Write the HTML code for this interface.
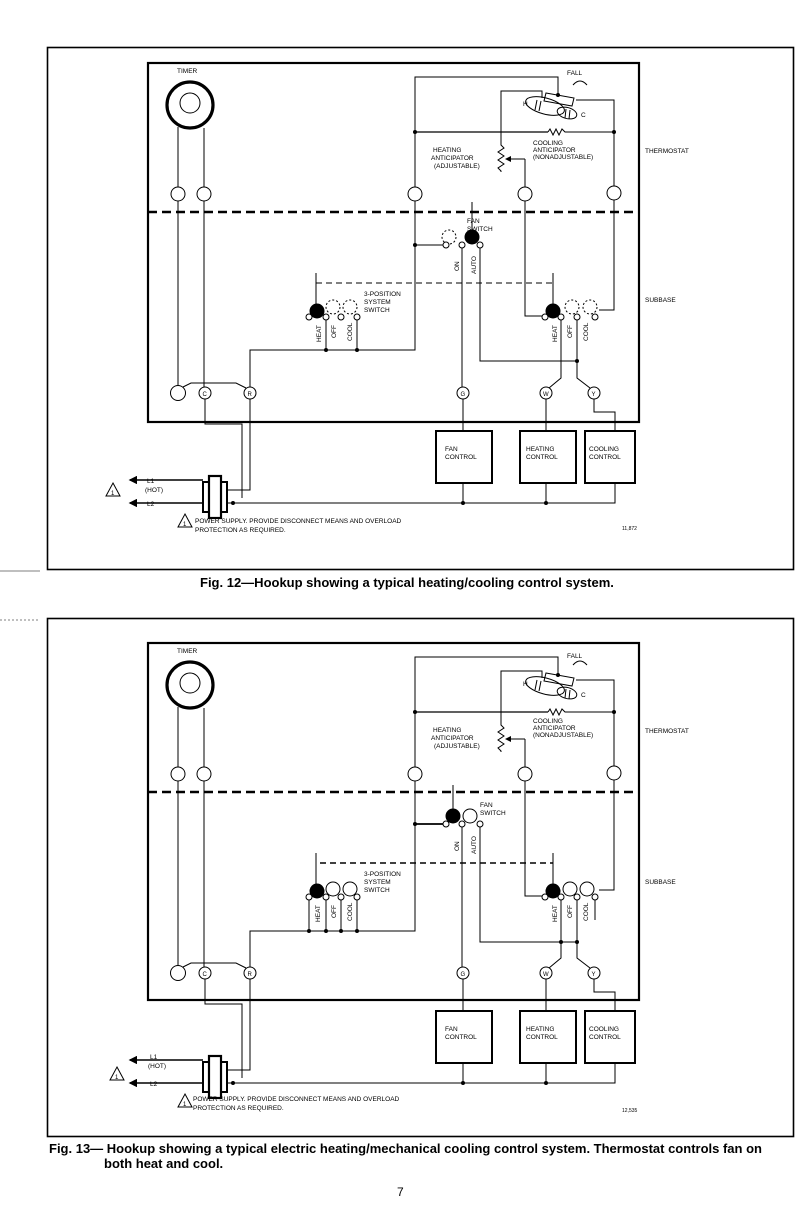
<!DOCTYPE html>
<html><head><meta charset="utf-8"><style>
html,body{margin:0;padding:0;background:#fff;}
svg{display:block;}
text{font-family:"Liberation Sans",sans-serif;fill:#000;}
.s{font-size:6.5px;}
.cap{font-size:13px;font-weight:bold;}
</style></head><body>
<svg width="802" height="1221" viewBox="0 0 802 1221" xmlns="http://www.w3.org/2000/svg">
<defs>
<marker id="ar" markerWidth="6" markerHeight="6" refX="5" refY="3" orient="auto"><path d="M0,0 L6,3 L0,6z" fill="#000"/></marker>
</defs>
<rect x="47.5" y="47.5" width="746" height="522" fill="none" stroke="#000" stroke-width="1.6"/>
<line x1="0" y1="571" x2="40" y2="571" stroke="#000" stroke-width="0.6"/>
<rect x="47.5" y="618.5" width="746" height="518" fill="none" stroke="#000" stroke-width="1.6"/>
<line x1="0" y1="620" x2="40" y2="620" stroke="#000" stroke-width="0.6" stroke-dasharray="2,2"/>
<text class="cap" x="200" y="587">Fig. 12—Hookup showing a typical heating/cooling control system.</text>
<text class="cap" x="49" y="1153">Fig. 13— Hookup showing a typical electric heating/mechanical cooling control system. Thermostat controls fan on</text>
<text class="cap" x="104" y="1168">both heat and cool.</text>
<text x="397" y="1196" style="font-size:12px">7</text>

<g id="f1" fill="none" stroke="#000" stroke-width="1">
<rect x="148" y="63" width="491" height="359" stroke-width="2.2"/>
<line x1="148" y1="212" x2="639" y2="212" stroke-width="2.6" stroke-dasharray="9,5"/>
<circle cx="190" cy="105" r="23" stroke-width="3.2"/>
<circle cx="190" cy="103" r="10"/>
<line x1="178" y1="127" x2="178" y2="187"/><line x1="204" y1="128" x2="204" y2="187"/>
<circle cx="178" cy="194" r="7"/><circle cx="204" cy="194" r="7"/>
<circle cx="415" cy="194" r="7"/><circle cx="525" cy="194" r="7"/><circle cx="614" cy="193" r="7"/>
<line x1="178" y1="201" x2="178" y2="386"/><line x1="204" y1="201" x2="204" y2="387"/>
<circle cx="178" cy="393" r="7.5"/><circle cx="205" cy="393" r="6"/><circle cx="250" cy="393" r="6"/>
<polyline points="183,387 191,383 236,383 246,388"/>
<polyline points="205,399 205,424 242,424 242,498"/>
<polyline points="250,399 250,490 228,490"/>
<polyline points="415,187 415,77 558,77 558,95"/>
<polyline points="415,201 415,350 250,350 250,387"/>
<line x1="415" y1="245" x2="443" y2="245"/>
<line x1="415" y1="132" x2="548" y2="132" stroke-width="1.3"/>
<polyline points="548,132 550,129 553,135 556,129 559,135 562,129 565,132 614,132"/>
<polyline points="576,100 614,100 614,186"/>
<polyline points="614,200 614,310 599,310"/>
<polyline points="542,98 542,91 501,91 501,145 504,148 498,152 504,156 498,160 504,164 498,168 501,171 501,172"/>
<line x1="525" y1="159" x2="506" y2="159" marker-end="url(#ar)"/>
<line x1="525" y1="159" x2="525" y2="187"/>
<polyline points="525,201 525,316 542,316"/>
<ellipse cx="545" cy="106" rx="20" ry="8" transform="rotate(15 545 106)"/>
<ellipse cx="567" cy="113" rx="10" ry="5.5" transform="rotate(15 567 113)"/>
<path d="M546,93 L574,98 L572,106 L544,101Z"/>
<line x1="537" y1="100" x2="535" y2="110"/><line x1="541" y1="101" x2="539" y2="111"/>
<line x1="566" y1="109" x2="565" y2="118"/><line x1="570" y1="110" x2="569" y2="119"/>
<path d="M573,85 Q580,77 587,85" />
<line x1="472" y1="202" x2="472" y2="232"/>
<circle cx="472" cy="237" r="7" fill="#000"/>
<circle cx="449" cy="237" r="7" stroke-dasharray="2,2"/>
<circle cx="446" cy="245" r="3" fill="#fff"/><circle cx="462" cy="245" r="3" fill="#fff"/><circle cx="480" cy="245" r="3" fill="#fff"/>
<line x1="462" y1="248" x2="462" y2="387"/>
<polyline points="480,248 480,361 577,361"/>
<line x1="316" y1="273" x2="316" y2="305"/>
<line x1="316" y1="283" x2="553" y2="283" stroke-dasharray="6,4"/>
<circle cx="317" cy="311" r="7" fill="#000"/>
<circle cx="333" cy="307" r="7" stroke-dasharray="2,2"/><circle cx="350" cy="307" r="7" stroke-dasharray="2,2"/>
<circle cx="309" cy="317" r="3" fill="#fff"/><circle cx="326" cy="317" r="3" fill="#fff"/><circle cx="341" cy="317" r="3" fill="#fff"/><circle cx="357" cy="317" r="3" fill="#fff"/>
<line x1="326" y1="320" x2="326" y2="350"/><line x1="357" y1="320" x2="357" y2="350"/>
<line x1="553" y1="273" x2="553" y2="305"/>
<circle cx="553" cy="311" r="7" fill="#000"/>
<circle cx="572" cy="307" r="7" stroke-dasharray="2,2"/><circle cx="590" cy="307" r="7" stroke-dasharray="2,2"/>
<circle cx="545" cy="317" r="3" fill="#fff"/><circle cx="561" cy="317" r="3" fill="#fff"/><circle cx="577" cy="317" r="3" fill="#fff"/><circle cx="595" cy="317" r="3" fill="#fff"/>
<polyline points="561,320 561,378 549,388"/>
<polyline points="577,320 577,378 590,388"/>
<circle cx="463" cy="393" r="6"/><circle cx="546" cy="393" r="6"/><circle cx="594" cy="393" r="6"/>
<line x1="463" y1="399" x2="463" y2="431"/><line x1="546" y1="399" x2="546" y2="431"/>
<polyline points="594,399 594,412 615,412 615,431"/>
<rect x="436" y="431" width="56" height="52" stroke-width="2"/>
<rect x="520" y="431" width="56" height="52" stroke-width="2"/>
<rect x="585" y="431" width="50" height="52" stroke-width="2"/>
<line x1="463" y1="483" x2="463" y2="503"/><line x1="546" y1="483" x2="546" y2="503"/>
<polyline points="615,483 615,503 226,503"/>
<rect x="209" y="476" width="12" height="42" stroke-width="2.2"/>
<rect x="203" y="482" width="6" height="30" stroke-width="2"/>
<rect x="221" y="482" width="6" height="30" stroke-width="2"/>
<line x1="203" y1="480" x2="130" y2="480" marker-end="url(#ar)" stroke-width="1.4"/>
<line x1="203" y1="503" x2="130" y2="503" marker-end="url(#ar)" stroke-width="1.4"/>
<path d="M113,483 L120,496 L106,496Z"/>
<path d="M185,514 L192,527 L178,527Z"/>
</g>
<g fill="#000">
<circle cx="415" cy="132" r="2"/><circle cx="614" cy="132" r="2"/><circle cx="558" cy="95" r="2"/>
<circle cx="415" cy="245" r="2"/><circle cx="326" cy="350" r="2"/><circle cx="357" cy="350" r="2"/>
<circle cx="577" cy="361" r="2"/><circle cx="233" cy="503" r="2"/><circle cx="463" cy="503" r="2"/><circle cx="546" cy="503" r="2"/>
</g>
<g class="s">
<text x="177" y="73">TIMER</text>
<text x="567" y="75">FALL</text>
<text x="523" y="106">H</text><text x="581" y="117">C</text>
<text x="533" y="145">COOLING</text><text x="533" y="152">ANTICIPATOR</text><text x="533" y="159">(NONADJUSTABLE)</text>
<text x="433" y="152">HEATING</text><text x="431" y="160">ANTICIPATOR</text><text x="434" y="168">(ADJUSTABLE)</text>
<text x="645" y="153">THERMOSTAT</text><text x="645" y="302">SUBBASE</text>
<text x="467" y="223">FAN</text><text x="467" y="231">SWITCH</text>
<text x="364" y="296">3-POSITION</text><text x="364" y="304">SYSTEM</text><text x="364" y="312">SWITCH</text>
<text transform="translate(459,271) rotate(-90)">ON</text>
<text transform="translate(476,274) rotate(-90)">AUTO</text>
<text transform="translate(321,342) rotate(-90)">HEAT</text>
<text transform="translate(336,338) rotate(-90)">OFF</text>
<text transform="translate(352,341) rotate(-90)">COOL</text>
<text transform="translate(557,342) rotate(-90)">HEAT</text>
<text transform="translate(572,338) rotate(-90)">OFF</text>
<text transform="translate(588,341) rotate(-90)">COOL</text>
<text x="202.5" y="396" style="font-size:6px">C</text><text x="247.5" y="396" style="font-size:6px">R</text>
<text x="460.5" y="396" style="font-size:6px">G</text><text x="543" y="396" style="font-size:6px">W</text><text x="591.5" y="396" style="font-size:6px">Y</text>
<text x="445" y="451">FAN</text><text x="445" y="459">CONTROL</text>
<text x="526" y="451">HEATING</text><text x="526" y="459">CONTROL</text>
<text x="589" y="451">COOLING</text><text x="589" y="459">CONTROL</text>
<text x="147" y="483">L1</text><text x="145" y="492">(HOT)</text><text x="147" y="506">L2</text>
<text x="111" y="495" style="font-size:6px">1</text><text x="183" y="526" style="font-size:6px">1</text>
<text x="195" y="523">POWER SUPPLY. PROVIDE DISCONNECT MEANS AND OVERLOAD</text>
<text x="195" y="532">PROTECTION AS REQUIRED.</text>
<text x="622" y="530" style="font-size:5px">11,872</text>
</g>

<g transform="translate(0,580)">
<g fill="none" stroke="#000" stroke-width="1">
<rect x="148" y="63" width="491" height="357" stroke-width="2.2"/>
<line x1="148" y1="212" x2="639" y2="212" stroke-width="2.6" stroke-dasharray="9,5"/>
<circle cx="190" cy="105" r="23" stroke-width="3.2"/>
<circle cx="190" cy="103" r="10"/>
<line x1="178" y1="127" x2="178" y2="187"/><line x1="204" y1="128" x2="204" y2="187"/>
<circle cx="178" cy="194" r="7"/><circle cx="204" cy="194" r="7"/>
<circle cx="415" cy="194" r="7"/><circle cx="525" cy="194" r="7"/><circle cx="614" cy="193" r="7"/>
<line x1="178" y1="201" x2="178" y2="386"/><line x1="204" y1="201" x2="204" y2="387"/>
<circle cx="178" cy="393" r="7.5"/><circle cx="205" cy="393" r="6"/><circle cx="250" cy="393" r="6"/>
<polyline points="183,387 191,383 236,383 246,388"/>
<polyline points="205,399 205,424 242,424 242,498"/>
<polyline points="250,399 250,490 228,490"/>
<polyline points="415,187 415,77 558,77 558,95"/>
<polyline points="415,201 415,351 250,351 250,387"/>
<line x1="415" y1="244" x2="443" y2="244" stroke-width="1.8"/>
<line x1="415" y1="132" x2="548" y2="132" stroke-width="1.3"/>
<polyline points="548,132 550,129 553,135 556,129 559,135 562,129 565,132 614,132"/>
<polyline points="576,100 614,100 614,186"/>
<polyline points="614,200 614,310 599,310"/>
<polyline points="542,98 542,91 501,91 501,145 504,148 498,152 504,156 498,160 504,164 498,168 501,171 501,172"/>
<line x1="525" y1="159" x2="506" y2="159" marker-end="url(#ar)"/>
<line x1="525" y1="159" x2="525" y2="187"/>
<polyline points="525,201 525,316 542,316"/>
<ellipse cx="545" cy="106" rx="20" ry="8" transform="rotate(15 545 106)"/>
<ellipse cx="567" cy="113" rx="10" ry="5.5" transform="rotate(15 567 113)"/>
<path d="M546,93 L574,98 L572,106 L544,101Z"/>
<line x1="537" y1="100" x2="535" y2="110"/><line x1="541" y1="101" x2="539" y2="111"/>
<line x1="566" y1="109" x2="565" y2="118"/><line x1="570" y1="110" x2="569" y2="119"/>
<path d="M573,85 Q580,77 587,85" />
<line x1="453" y1="205" x2="453" y2="230"/>
<circle cx="453" cy="236" r="7" fill="#000"/>
<circle cx="470" cy="236" r="7"/>
<circle cx="446" cy="244" r="3" fill="#fff"/><circle cx="462" cy="244" r="3" fill="#fff"/><circle cx="480" cy="244" r="3" fill="#fff"/>
<line x1="462" y1="247" x2="462" y2="387"/>
<polyline points="480,247 480,362 577,362"/>
<line x1="316" y1="273" x2="316" y2="305"/>
<line x1="320" y1="283" x2="553" y2="283" stroke-dasharray="6,4" stroke-width="1.4"/>
<circle cx="317" cy="311" r="7" fill="#000"/>
<circle cx="333" cy="309" r="7"/><circle cx="350" cy="309" r="7"/>
<circle cx="309" cy="317" r="3" fill="#fff"/><circle cx="326" cy="317" r="3" fill="#fff"/><circle cx="341" cy="317" r="3" fill="#fff"/><circle cx="357" cy="317" r="3" fill="#fff"/>
<line x1="309" y1="320" x2="309" y2="351"/><line x1="326" y1="320" x2="326" y2="351"/>
<line x1="341" y1="320" x2="341" y2="351"/><line x1="357" y1="320" x2="357" y2="351"/>
<line x1="553" y1="273" x2="553" y2="305"/>
<circle cx="553" cy="311" r="7" fill="#000"/>
<circle cx="570" cy="309" r="7"/><circle cx="587" cy="309" r="7"/>
<circle cx="545" cy="317" r="3" fill="#fff"/><circle cx="561" cy="317" r="3" fill="#fff"/><circle cx="577" cy="317" r="3" fill="#fff"/><circle cx="595" cy="317" r="3" fill="#fff"/>
<line x1="595" y1="320" x2="595" y2="340"/>
<polyline points="561,320 561,378 549,388"/>
<polyline points="577,320 577,378 590,388"/>
<circle cx="463" cy="393" r="6"/><circle cx="546" cy="393" r="6"/><circle cx="594" cy="393" r="6"/>
<line x1="463" y1="399" x2="463" y2="431"/><line x1="546" y1="399" x2="546" y2="431"/>
<polyline points="594,399 594,412 615,412 615,431"/>
<rect x="436" y="431" width="56" height="52" stroke-width="2"/>
<rect x="520" y="431" width="56" height="52" stroke-width="2"/>
<rect x="585" y="431" width="50" height="52" stroke-width="2"/>
<line x1="463" y1="483" x2="463" y2="503"/><line x1="546" y1="483" x2="546" y2="503"/>
<polyline points="615,483 615,503 226,503"/>
<rect x="209" y="476" width="12" height="42" stroke-width="2.2"/>
<rect x="203" y="482" width="6" height="30" stroke-width="2"/>
<rect x="221" y="482" width="6" height="30" stroke-width="2"/>
<line x1="203" y1="480" x2="130" y2="480" marker-end="url(#ar)" stroke-width="1.4"/>
<line x1="203" y1="503" x2="130" y2="503" marker-end="url(#ar)" stroke-width="1.4"/>
<path d="M117,487 L124,500 L110,500Z"/>
<path d="M185,514 L192,527 L178,527Z"/>
</g>
<g fill="#000">
<circle cx="415" cy="132" r="2"/><circle cx="614" cy="132" r="2"/><circle cx="558" cy="95" r="2"/>
<circle cx="415" cy="244" r="2"/><circle cx="309" cy="351" r="2"/><circle cx="326" cy="351" r="2"/><circle cx="341" cy="351" r="2"/><circle cx="357" cy="351" r="2"/>
<circle cx="577" cy="362" r="2"/><circle cx="561" cy="362" r="2"/><circle cx="233" cy="503" r="2"/><circle cx="463" cy="503" r="2"/><circle cx="546" cy="503" r="2"/>
</g>
<g class="s">
<text x="177" y="73">TIMER</text>
<text x="567" y="78">FALL</text>
<text x="523" y="106">H</text><text x="581" y="117">C</text>
<text x="533" y="143">COOLING</text><text x="533" y="150">ANTICIPATOR</text><text x="533" y="157">(NONADJUSTABLE)</text>
<text x="433" y="152">HEATING</text><text x="431" y="160">ANTICIPATOR</text><text x="434" y="168">(ADJUSTABLE)</text>
<text x="645" y="153">THERMOSTAT</text><text x="645" y="304">SUBBASE</text>
<text x="480" y="227">FAN</text><text x="480" y="235">SWITCH</text>
<text x="364" y="296">3-POSITION</text><text x="364" y="304">SYSTEM</text><text x="364" y="312">SWITCH</text>
<text transform="translate(459,271) rotate(-90)">ON</text>
<text transform="translate(476,274) rotate(-90)">AUTO</text>
<text transform="translate(320,342) rotate(-90)">HEAT</text>
<text transform="translate(336,338) rotate(-90)">OFF</text>
<text transform="translate(352,341) rotate(-90)">COOL</text>
<text transform="translate(557,342) rotate(-90)">HEAT</text>
<text transform="translate(572,338) rotate(-90)">OFF</text>
<text transform="translate(588,341) rotate(-90)">COOL</text>
<text x="202.5" y="396" style="font-size:6px">C</text><text x="247.5" y="396" style="font-size:6px">R</text>
<text x="460.5" y="396" style="font-size:6px">G</text><text x="543" y="396" style="font-size:6px">W</text><text x="591.5" y="396" style="font-size:6px">Y</text>
<text x="445" y="451">FAN</text><text x="445" y="459">CONTROL</text>
<text x="526" y="451">HEATING</text><text x="526" y="459">CONTROL</text>
<text x="589" y="451">COOLING</text><text x="589" y="459">CONTROL</text>
<text x="150" y="479">L1</text><text x="148" y="488">(HOT)</text><text x="150" y="506">L2</text>
<text x="115" y="499" style="font-size:6px">1</text><text x="183" y="526" style="font-size:6px">1</text>
<text x="193" y="521">POWER SUPPLY.  PROVIDE DISCONNECT MEANS AND OVERLOAD</text>
<text x="193" y="530">PROTECTION AS REQUIRED.</text>
<text x="622" y="532" style="font-size:5px">12,535</text>
</g>
</g>
</svg>
</body></html>
